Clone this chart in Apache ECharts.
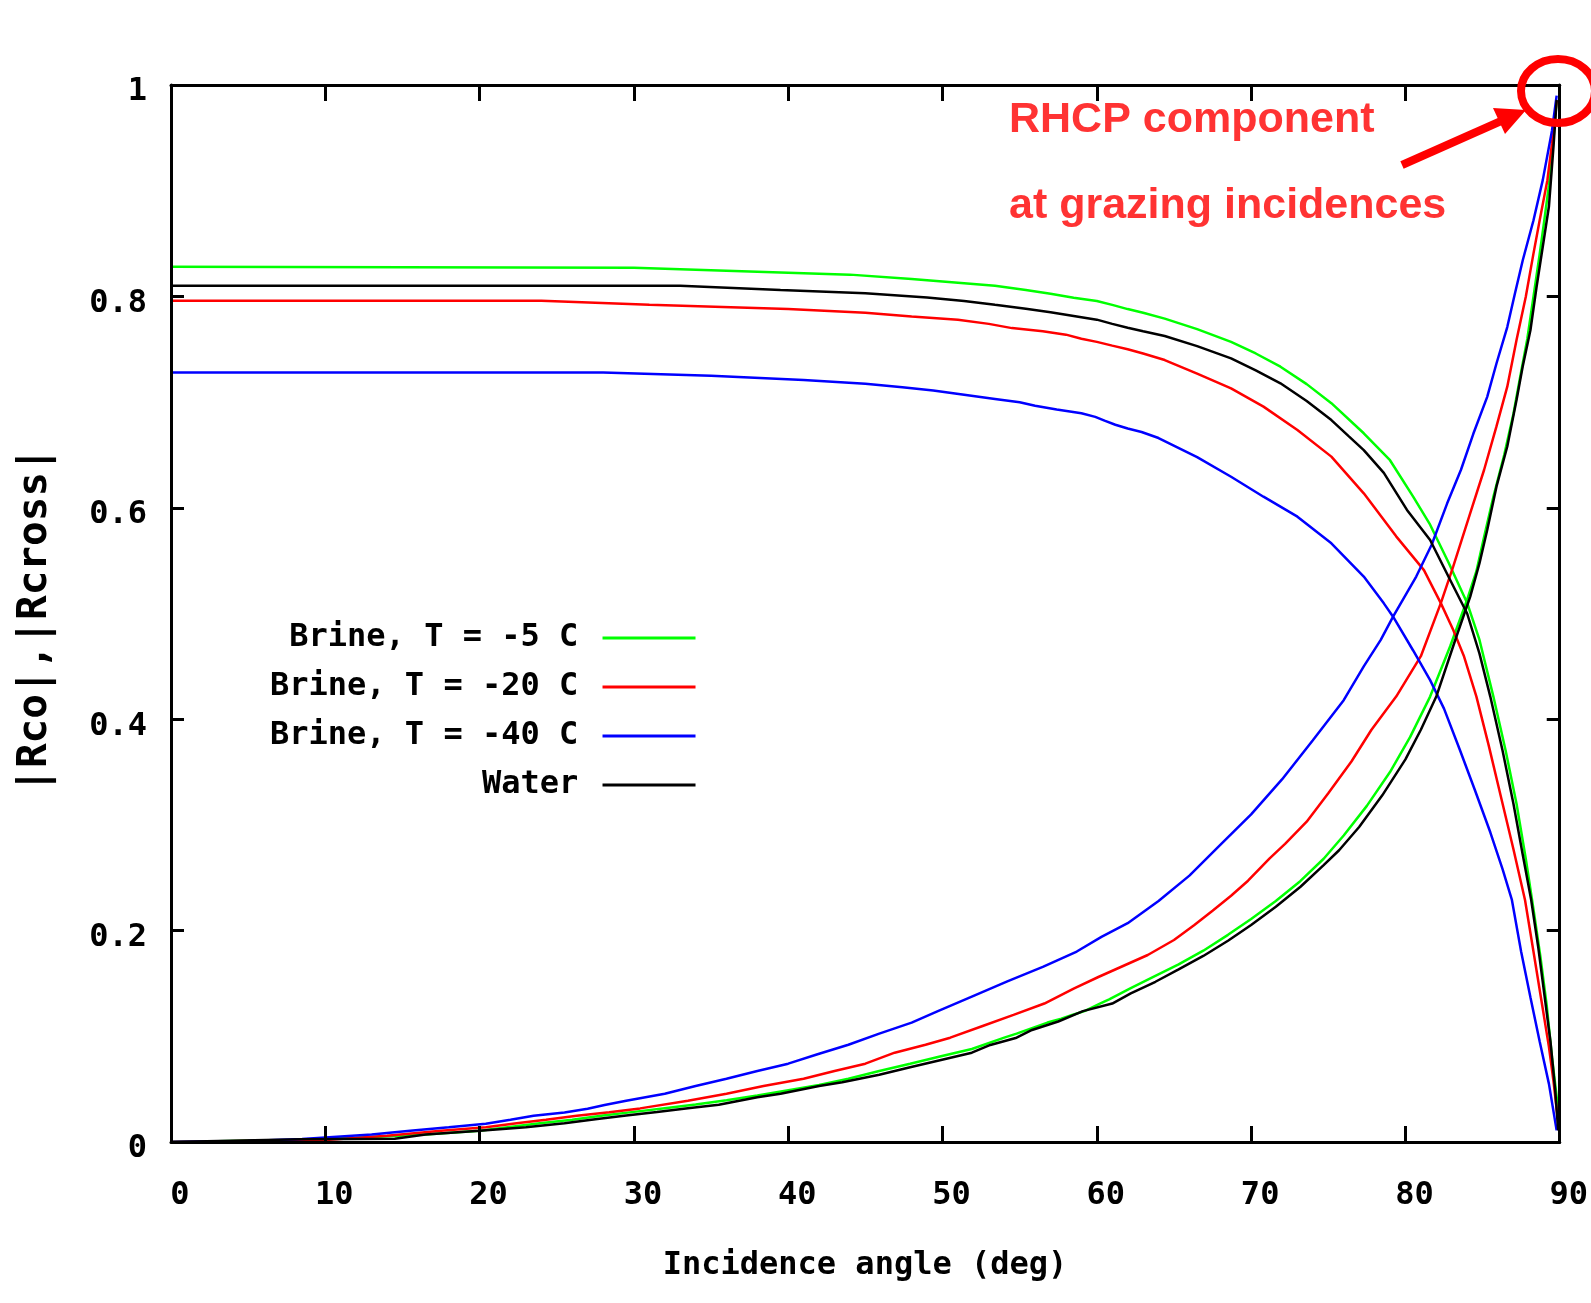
<!DOCTYPE html>
<html>
<head>
<meta charset="utf-8">
<script src="https://cdn.jsdelivr.net/npm/echarts/dist/echarts.min.js"></script>
<style>
html,body{margin:0;padding:0;background:#fff;}
#chart{width:1591px;height:1303px;}
</style>
</head>
<body>
<div id="chart"></div>
<script>
// ---- tick labels ----
const xTicks = [0, 10, 20, 30, 40, 50, 60, 70, 80, 90];
const yTicks = [0, 0.2, 0.4, 0.6, 0.8, 1];

// ---- titles / annotation ----
const xTitle = 'Incidence angle (deg)';
const yTitle = '|Rco|,|Rcross|';
const noteLines = ['RHCP component', 'at grazing incidences'];

// ---- series names / colours ----
const seriesNames = ['Brine, T = -5 C', 'Brine, T = -20 C', 'Brine, T = -40 C', 'Water'];
const seriesColors = ['#00ff00', '#ff0000', '#0000ff', '#000000'];

// ---- values: [angle (deg), |R|] ----
const brine5Co = [[0,0.828],[30,0.827],[37,0.8237],[44,0.8206],[48,0.8165],[51,0.813],[53.4,0.81],[55.4,0.806],[57,0.8026],[58.5,0.7988],[60,0.7957],[61,0.792],[62,0.788],[63,0.7846],[64.4,0.779],[66.5,0.769],[68.7,0.757],[70.3,0.746],[71.9,0.7335],[73.6,0.717],[75.2,0.699],[77.3,0.6705],[79,0.645],[80.5,0.6105],[81.6,0.584],[82.8,0.548],[84,0.51],[84.8,0.475],[85.7,0.4214],[86.5,0.37],[87.2,0.32],[87.8,0.268],[88.3,0.22],[88.75,0.175],[89.15,0.13],[89.5,0.08],[89.8,0.043],[89.95,0.012]];
const brine5Cross = [[0,0],[8,0.002],[12,0.004],[16.5,0.007],[20,0.0107],[23.9,0.0177],[26,0.021],[28,0.025],[30,0.0285],[32,0.032],[34,0.0355],[36,0.0395],[38,0.044],[40.2,0.0495],[42,0.054],[43.9,0.0599],[45.9,0.0672],[47.9,0.0741],[49.9,0.0811],[51.9,0.088],[54,0.0987],[54.8,0.1025],[56.8,0.113],[57.7,0.1167],[58.4,0.1202],[59.2,0.1238],[60.2,0.131],[60.8,0.135],[62.2,0.1456],[63.5,0.155],[65.3,0.168],[66.9,0.181],[68.5,0.196],[70,0.211],[71.6,0.228],[73.2,0.247],[74.7,0.268],[76,0.29],[77.5,0.318],[79,0.35],[80.3,0.383],[81.6,0.4214],[82.9,0.469],[84,0.513],[84.6,0.54],[85.1,0.5726],[85.7,0.6105],[86.4,0.65],[87,0.689],[87.4,0.721],[87.9,0.76],[88.3,0.8],[88.7,0.84],[89,0.872],[89.3,0.905],[89.6,0.95],[89.8,0.985]];

const brine20Co = [[0,0.796],[24,0.796],[31,0.792],[40,0.788],[45,0.7846],[48,0.781],[51,0.778],[53,0.774],[54.5,0.770],[56.5,0.767],[58,0.7638],[59,0.760],[60,0.757],[61,0.7534],[62,0.75],[63,0.746],[64.4,0.7398],[66.5,0.727],[68.7,0.713],[70.8,0.6957],[73,0.6736],[75.2,0.6484],[77.3,0.6137],[79.4,0.573],[81.2,0.541],[82.3,0.5096],[83.1,0.4844],[83.8,0.4593],[84.6,0.4214],[85.4,0.375],[86.2,0.326],[87,0.277],[87.75,0.229],[88.3,0.18],[88.8,0.135],[89.3,0.09],[89.6,0.057],[89.85,0.025]];
const brine20Cross = [[0,0],[10,0.002],[14,0.006],[17.5,0.0107],[20.4,0.014],[22.4,0.0177],[24.3,0.0211],[26.3,0.0249],[28.4,0.0281],[30.4,0.0318],[33.5,0.0391],[36,0.0457],[38.4,0.053],[41,0.0599],[43,0.0672],[45,0.0741],[46.9,0.0845],[48.9,0.092],[50.5,0.0987],[52.6,0.1097],[54.6,0.1202],[56.6,0.131],[58.5,0.1452],[60.1,0.1561],[61.7,0.1665],[63.3,0.1769],[65,0.1911],[66.3,0.205],[67.5,0.2188],[68.7,0.233],[69.8,0.2472],[71.2,0.2684],[72.2,0.282],[73.6,0.303],[75,0.33],[76.5,0.36],[77.8,0.39],[79.4,0.4214],[81,0.4596],[82.3,0.51],[83.1,0.5445],[84.2,0.595],[85.1,0.636],[85.9,0.677],[86.6,0.7146],[87.2,0.7588],[87.8,0.7997],[88.3,0.8407],[88.7,0.872],[89.2,0.91],[89.5,0.945],[89.8,0.985]];

const brine40Co = [[0,0.728],[28,0.728],[35,0.725],[41,0.721],[45,0.7174],[47.4,0.714],[49.4,0.711],[51.4,0.707],[53.4,0.703],[55,0.6998],[56,0.6966],[57.4,0.693],[59,0.6894],[59.9,0.686],[60.5,0.6824],[61.2,0.6786],[62,0.675],[62.9,0.6717],[64,0.666],[66.5,0.648],[68.7,0.6294],[70.8,0.6105],[73,0.5916],[75.2,0.5664],[77.3,0.535],[78.6,0.5096],[79.2,0.497],[80.5,0.465],[81.6,0.437],[82.5,0.41],[83.5,0.372],[84.5,0.333],[85.5,0.293],[86.3,0.258],[86.9,0.229],[87.5,0.18],[88.1,0.137],[88.7,0.095],[89.3,0.055],[89.8,0.011]];
const brine40Cross = [[0,0],[5,0.001],[8.5,0.0028],[13,0.007],[15.5,0.0107],[18,0.0139],[20.4,0.0173],[22,0.0211],[23.5,0.0249],[25.5,0.028],[27,0.0315],[28.1,0.035],[29.5,0.0391],[32,0.0457],[34,0.053],[36,0.0599],[38,0.0672],[40,0.0741],[41.9,0.083],[43.9,0.092],[45.9,0.1025],[48,0.113],[49.7,0.1238],[51.9,0.1376],[54.2,0.152],[56.5,0.1656],[58.7,0.1802],[60.3,0.194],[62,0.207],[64,0.228],[66,0.252],[68,0.281],[70,0.31],[72,0.343],[74,0.38],[76,0.418],[77.3,0.45],[78.4,0.475],[79.2,0.497],[80.7,0.535],[81.7,0.565],[82.7,0.604],[83.6,0.636],[84.4,0.67],[85.3,0.705],[85.9,0.7365],[86.6,0.771],[87.1,0.803],[87.6,0.834],[88.3,0.872],[88.9,0.91],[89.5,0.957],[89.8,0.99]];

const waterCo = [[0,0.81],[33,0.81],[39.5,0.806],[45,0.803],[49,0.799],[51.4,0.7957],[53.4,0.792],[55.4,0.7884],[57,0.785],[58.5,0.7815],[60,0.778],[61,0.774],[62,0.7704],[63,0.767],[64.4,0.7625],[66.5,0.753],[68.7,0.7414],[70.3,0.73],[71.9,0.7178],[73.6,0.701],[75.2,0.683],[76.3,0.668],[77.3,0.6546],[78.6,0.633],[80.1,0.598],[81.6,0.5695],[82.9,0.5317],[84,0.5],[84.8,0.462],[85.5,0.4214],[86.3,0.37],[87,0.32],[87.6,0.272],[88.15,0.229],[88.6,0.185],[89,0.14],[89.4,0.095],[89.7,0.05],[89.9,0.011]];
const waterCross = [[0,0],[8.5,0.0025],[14.5,0.003],[16.5,0.007],[20,0.0107],[23,0.014],[25.5,0.0177],[27.5,0.0215],[29.5,0.025],[31.5,0.0284],[33.5,0.0319],[35.5,0.0353],[38,0.0423],[39.5,0.0457],[42,0.053],[43.5,0.0565],[45.9,0.0637],[47.9,0.0707],[49.9,0.0776],[51.9,0.0845],[53.1,0.0918],[54.8,0.0987],[55.8,0.106],[57.5,0.114],[59.1,0.1238],[61,0.131],[62.2,0.1406],[63.8,0.1516],[65.3,0.1633],[66.9,0.176],[68.5,0.1904],[70,0.2053],[71.6,0.2226],[73.2,0.2415],[74.7,0.262],[75.7,0.276],[77,0.298],[78.5,0.328],[80,0.362],[81,0.39],[82,0.4214],[83.3,0.478],[84.2,0.516],[84.8,0.5476],[85.3,0.579],[85.9,0.62],[86.6,0.658],[87.2,0.702],[87.6,0.7337],[88.1,0.768],[88.5,0.809],[88.9,0.847],[89.3,0.885],[89.6,0.9426],[89.8,0.986]];

const curveSets = [
  [brine5Co, brine5Cross],
  [brine20Co, brine20Cross],
  [brine40Co, brine40Cross],
  [waterCo, waterCross]
];

// ---- styling ----
const MONO = '"DejaVu Sans Mono", "Liberation Mono", monospace';
const SANS = '"Liberation Sans", Arial, Helvetica, sans-serif';

const chart = echarts.init(document.getElementById('chart'), null, {renderer: 'canvas'});

const xMin = xTicks[0], xMax = xTicks[xTicks.length - 1], xInt = xTicks[1] - xTicks[0];
const yMin = yTicks[0], yMax = yTicks[yTicks.length - 1], yInt = yTicks[1] - yTicks[0];

function xAxisDef(pos, showLabel) {
  return {
    type: 'value', position: pos, min: xMin, max: xMax, interval: xInt, z: 10,
    axisLine: {show: true, onZero: false, lineStyle: {color: '#000', width: 3}},
    axisTick: {show: true, inside: true, length: 16, lineStyle: {color: '#000', width: 3}},
    axisLabel: {
      show: showLabel, margin: 38, color: '#000', fontFamily: MONO, fontWeight: 'bold',
      fontSize: 32, lineHeight: 32, padding: [0, 0, 0, 18], showMinLabel: true, showMaxLabel: true
    },
    splitLine: {show: false}
  };
}
function yAxisDef(pos, showLabel) {
  return {
    type: 'value', position: pos, min: yMin, max: yMax, interval: yInt, z: 10,
    axisLine: {show: true, onZero: false, lineStyle: {color: '#000', width: 3}},
    axisTick: {show: true, inside: true, length: 13, lineStyle: {color: '#000', width: 3}},
    axisLabel: {
      show: showLabel, margin: 24, color: '#000', fontFamily: MONO, fontWeight: 'bold',
      fontSize: 32, lineHeight: 14, verticalAlign: 'top', showMinLabel: true, showMaxLabel: true
    },
    splitLine: {show: false}
  };
}

const series = [];
curveSets.forEach((pair, i) => {
  pair.forEach(d => {
    series.push({
      type: 'line', name: seriesNames[i], data: d, xAxisIndex: 0, yAxisIndex: 0,
      showSymbol: false, symbol: 'none', animation: false,
      lineStyle: {color: seriesColors[i], width: 2.5},
      itemStyle: {color: seriesColors[i]}
    });
  });
});

const option = {
  animation: false,
  backgroundColor: '#ffffff',
  grid: {left: 171, top: 85, right: 28, bottom: 161, show: false},
  xAxis: [xAxisDef('bottom', true), xAxisDef('top', false)],
  yAxis: [yAxisDef('left', true), yAxisDef('right', false)],
  legend: {
    data: seriesNames,
    orient: 'vertical', left: 265, top: 617, align: 'right',
    icon: 'rect', itemWidth: 93, itemHeight: 3, itemGap: 17,
    selectedMode: false,
    formatter: n => n.padStart(16, ' ') + ' ',
    textStyle: {fontFamily: MONO, fontWeight: 'bold', fontSize: 32, lineHeight: 32, color: '#000'}
  },
  series: series,
  graphic: [
    {type: 'text', x: 865, y: 1266, z: 20,
     style: {text: xTitle, font: 'bold 32px ' + MONO, fill: '#000', align: 'center', verticalAlign: 'middle', textAlign: 'center', textVerticalAlign: 'middle'}},
    {type: 'text', x: 35, y: 620, rotation: Math.PI / 2, z: 20,
     style: {text: yTitle, font: 'bold 41px ' + MONO, fill: '#000', align: 'center', verticalAlign: 'middle', textAlign: 'center', textVerticalAlign: 'middle'}},
    {type: 'text', x: 1009, y: 120, z: 20,
     style: {text: noteLines[0], font: 'bold 43px ' + SANS, fill: '#ff3333', align: 'left', verticalAlign: 'middle', textAlign: 'left', textVerticalAlign: 'middle'}},
    {type: 'text', x: 1009, y: 206, z: 20,
     style: {text: noteLines[1], font: 'bold 43px ' + SANS, fill: '#ff3333', align: 'left', verticalAlign: 'middle', textAlign: 'left', textVerticalAlign: 'middle'}},
    {type: 'line', z: 20, shape: {x1: 1402, y1: 165, x2: 1500, y2: 121.5},
     style: {stroke: '#ff0000', lineWidth: 8}},
    {type: 'polygon', z: 20, shape: {points: [[1526, 110], [1505, 134], [1493, 108]]},
     style: {fill: '#ff0000'}},
    {type: 'ellipse', z: 20, shape: {cx: 1558, cy: 91, rx: 37, ry: 32},
     style: {fill: 'none', stroke: '#ff0000', lineWidth: 8}}
  ]
};

chart.setOption(option);
</script>
</body>
</html>
